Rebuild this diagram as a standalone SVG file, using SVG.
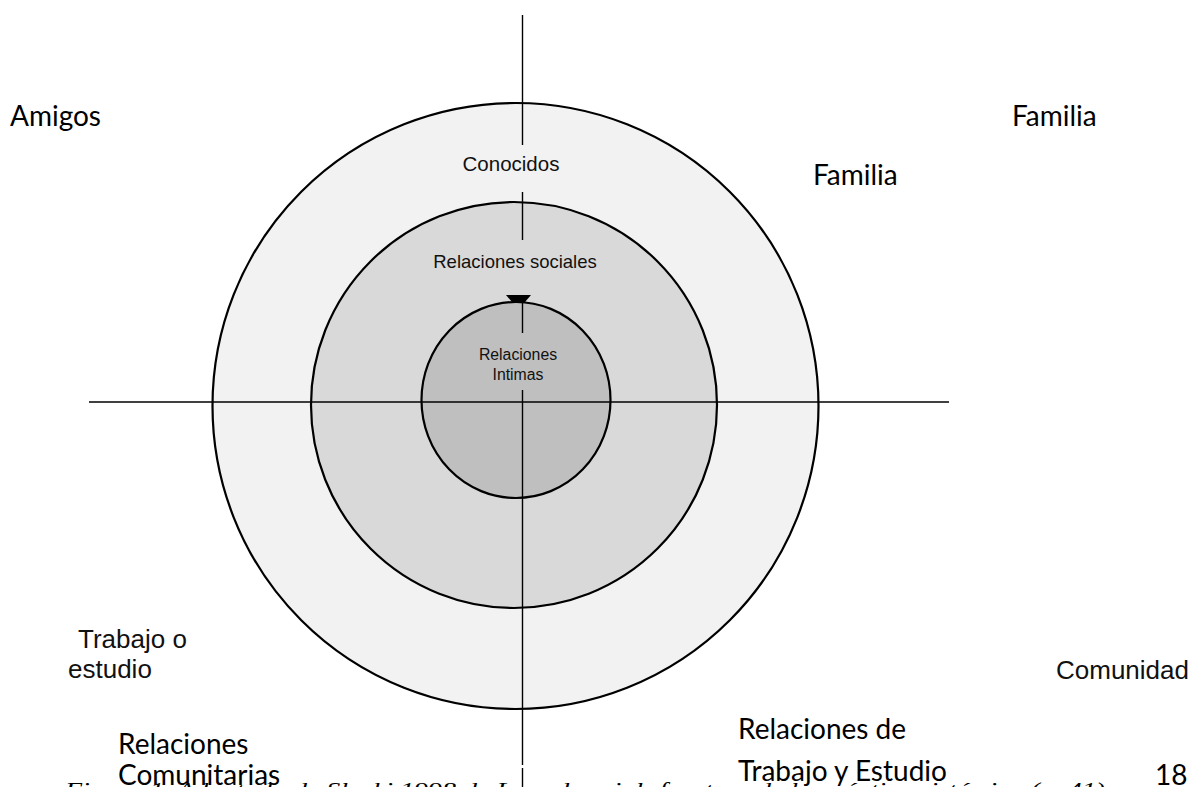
<svg xmlns="http://www.w3.org/2000/svg" width="1194" height="787" viewBox="0 0 1194 787">
<style>
.ring{stroke:#000;stroke-width:2.2}
.ax{stroke:#000;stroke-width:1.4;fill:none}
.cal{font-family:Lato,"Liberation Sans",sans-serif;font-size:28px;fill:#000}
.ar{font-family:"Liberation Sans",Arial,sans-serif;fill:#111}
.cap{font-family:"Liberation Serif",serif;font-style:italic;font-size:22px;fill:#000}
</style>
<rect width="1194" height="787" fill="#fff"/>
<g id="outer-ring"><circle class="ring" cx="515.5" cy="406" r="303" fill="#f2f2f2"/></g>
<g id="middle-ring"><circle class="ring" cx="514" cy="405" r="203" fill="#d9d9d9"/></g>
<g id="inner-ring"><ellipse class="ring" cx="516" cy="400" rx="94.5" ry="98" fill="#bfbfbf"/></g>
<g id="connectors">
<line class="ax" x1="89" y1="402" x2="949" y2="402"/>
<line class="ax" x1="522.5" y1="15" x2="522.5" y2="145"/>
<line class="ax" x1="522.5" y1="192" x2="522.5" y2="240"/>
<line class="ax" x1="522.5" y1="300" x2="522.5" y2="333"/>
<line class="ax" x1="522.5" y1="390" x2="522.5" y2="765"/>
<line class="ax" x1="522.5" y1="768" x2="522.5" y2="787"/>
<path d="M506,295 L531,295 L525,302 L512,302 Z" fill="#000"/>
</g>
<g id="label-conocidos"><text class="ar" x="511" y="171" font-size="20.5" text-anchor="middle">Conocidos</text></g>
<g id="label-sociales"><text class="ar" x="515" y="268" font-size="18.5" text-anchor="middle">Relaciones sociales</text></g>
<g id="label-intimas"><text class="ar" x="518" y="360" font-size="15.8" text-anchor="middle">Relaciones</text><text class="ar" x="518" y="380" font-size="15.8" text-anchor="middle">Intimas</text></g>
<g id="label-amigos"><text class="cal" x="10" y="126" font-size="24.5">Amigos</text></g>
<g id="label-familia1"><text class="cal" x="1012" y="126" font-size="29">Familia</text></g>
<g id="label-familia2"><text class="cal" x="813" y="185" font-size="28.5">Familia</text></g>
<g id="label-trabajo"><text class="ar" x="78" y="648" font-size="26">Trabajo o</text><text class="ar" x="68" y="678" font-size="26">estudio</text></g>
<g id="label-comunidad"><text class="ar" x="1056" y="679" font-size="26">Comunidad</text></g>
<g id="label-rel-com"><text class="cal" x="118" y="754" font-size="24">Relaciones</text><text class="cal" x="118" y="785" font-size="24">Comunitarias</text></g>
<g id="label-rel-trab"><text class="cal" x="738" y="739">Relaciones de</text><text class="cal" x="738" y="781">Trabajo y Estudio</text></g>
<g id="caption"><text class="cap" x="65" y="797" textLength="1040" lengthAdjust="spacingAndGlyphs">Figura 1. Adaptado de Sluzki 1998 de La red social: frontera de la práctica sistémica (p. 41)</text><text class="cal" x="1155" y="785" font-size="28">18</text></g>
</svg>
